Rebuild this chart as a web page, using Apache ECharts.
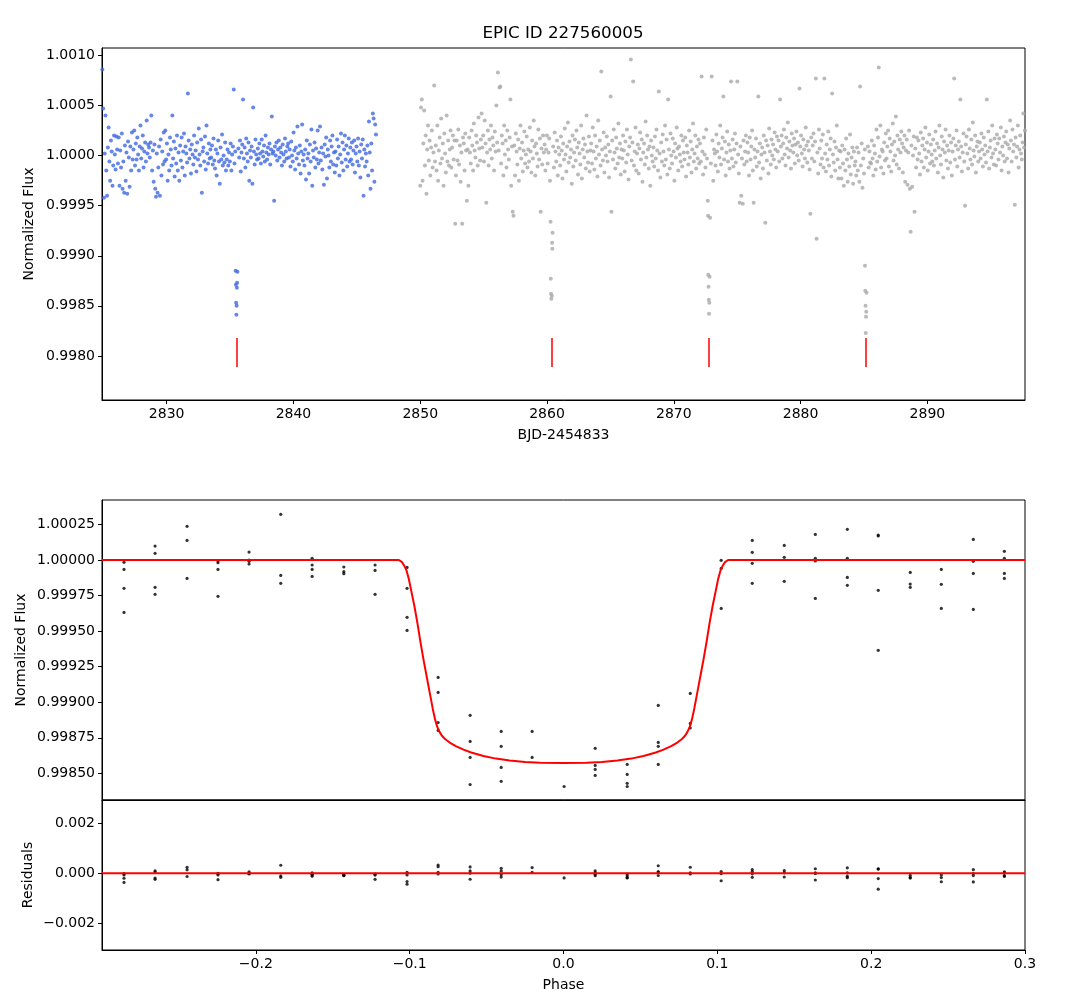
<!DOCTYPE html>
<html>
<head>
<meta charset="utf-8">
<title>EPIC ID 227560005</title>
<script src="https://cdn.jsdelivr.net/npm/echarts@6.0.0/dist/echarts.min.js"></script>
<style>
  html, body { margin: 0; padding: 0; background: #fff; }
  #chart { width: 1074px; height: 1000px; }
</style>
</head>
<body>
<div id="chart"></div>
<script>
// light curve, flux offsets in ppm, one value every 3 long cadences
const cadence = 0.0613
const blueStart = 2824.93
const blueFlux = [
  860, 470, -420, 20, 400, -150, -400, 80, 280, -60, -250, 150, 40, -300, -100, 200, 10, -140, 190, 60,
  -80, 180, -300, 50, -120, 220, -330, -60, -370, 100, -250, 30, -380, 140, -20, -310, 90, -150, 230, -40,
  60, 250, -100, 120, -40, 180, 10, -150, 90, 300, -30, 70, 200, -120, 40, 130, -60, 350, 20, 110,
  80, -20, 130, 400, -150, 50, -260, 110, -330, -410, 20, -370, -120, 90, -400, 160, -200, 40, -90, 230,
  -60, 250, -40, 120, -250, 10, -150, 180, 60, -100, 400, -30, 140, -210, 70, -80, 200, -150, 30, -250,
  100, -50, 180, -120, 40, 220, -200, 90, 20, -70, 620, 150, -30, 60, -180, 110, 10, -90, 200, -20,
  50, -160, 130, -40, 270, 10, -100, 160, -370, 40, 80, -60, 190, -140, 300, 20, -80, 120, -30, 60,
  -20, 100, -90, 170, -50, -130, 60, -200, 20, 150, -60, -280, 80, -40, 210, -100, 0, -70, 130, -150,
  -40, 60, -100, 30, -60, 120, -150, 10, 90, 660, -80, 40, 0, 0, -90, 70, -20, 150, -160, 30,
  110, 560, -30, 80, -120, 170, 20, -60, 130, -250, 50, -20, 90, -280, 480, 40, -90, 160, 10, -40,
  70, -30, 120, 20, -80, 160, 40, -10, 100, -60, 200, 30, -40, 80, 10, 120, -90, 60, 390, 20,
  40, -450, 90, 0, 130, -50, 60, 150, -20, 80, 30, -100, 110, 10, -60, 170, 40, -30, 90, 120,
  -20, 60, -110, 140, 0, -60, 230, 50, -140, 80, -30, 290, 20, -90, 100, -180, 40, 310, -50, 10,
  -100, 60, -240, 150, -30, 20, -180, 110, -60, 260, -300, 50, -20, 130, -120, 70, -40, 250, -80, 30,
  290, -50, 80, -140, 20, -290, 110, -10, 180, -230, 60, 0, -120, 150, -60, 90, 200, -90, 30, -170,
  40, -100, 160, -30, 90, -200, 10, 220, -70, 130, -150, 60, 200, -40, 100, -110, 20, 170, -60, 80,
  -40, 130, -90, 50, 150, -170, 20, 90, -60, 170, -100, 40, -220, 110, -30, 160, -400, 60, -110, 20,
  -60, 100, -200, 340, 30, -330, 120, -150, 420, 370, -260, 310, 210
]
const greyStart = 2850.0
const greyFlux = [
  -300, 480, 560, -250, 120, 450, -100, 200, -380, 60, 300, -50, 150, -200, 80, 250, -120, 30, 700, -60,
  100, -150, 300, -250, 50, 180, -80, 370, -30, 120, -300, 220, 20, -170, 400, -60, 150, -100, 60, 250,
  -120, 80, 200, -40, 150, -680, -200, 150, -50, 260, -90, 100, -260, 30, -680, 180, 120, -150, 220, 50,
  -450, 60, -300, 180, 30, -80, 250, 100, -150, 320, 50, -20, 200, 130, -100, 380, 70, -50, 160, 420,
  80, 200, -60, 350, 120, -470, 30, 250, -100, 160, 60, 300, -30, 180, 100, -150, 240, 40, 500, 130,
  830, 50, 680, 690, -80, 200, 120, -200, 300, 10, 150, -120, 250, 60, -40, 180, 560, -300, 90, -560,
  -600, 100, -200, 220, 40, -90, 160, -250, 70, 300, -30, 130, -160, 50, 240, -80, 10, 190, -120, 60,
  -60, 280, 40, -170, 150, -30, 350, 90, -200, 120, 20, -110, 260, -40, 170, -560, 70, -90, 200, 30,
  110, -150, 60, 200, -80, 30, 170, -250, 0, 0, 0, 90, -120, 230, 40, -60, 150, -200, 80, 10,
  -100, 190, 50, -230, 120, -40, 270, 10, -160, 90, 330, -70, 140, -20, 60, -280, 200, -110, 30, 160,
  -50, 250, 80, -190, 130, 20, -90, 300, -230, 60, 170, -20, 110, -130, 400, 40, -70, 190, -160, 50,
  120, -80, 280, 40, -140, 200, -30, 90, -210, 350, 10, 150, -100, 840, 60, -50, 230, -170, 80, 0,
  190, -60, 110, -220, 40, 590, -560, 150, -40, 260, 30, -130, 180, 70, -80, 320, -20, 120, -190, 60,
  -30, 200, 50, -160, 140, -70, 260, 10, -240, 90, 180, 960, -50, 130, 740, -100, 40, 280, -150, 20,
  110, -180, 70, 230, -40, 160, -260, 30, 120, -90, 340, -20, 200, 60, -130, 90, -300, 150, 0, -60,
  80, -110, 190, -30, 260, 50, -150, 640, 20, -220, 130, -60, 210, 40, -100, 300, -40, 160, -190, 560,
  60, -130, 220, 0, -80, 170, 40, -250, 120, -20, 280, 70, -150, 90, 10, -60, 200, -110, 150, 30,
  -40, 180, -210, 100, 30, -90, 250, -20, 140, -170, 60, 320, -60, 20, 200, -130, 90, -30, 160, -80,
  120, -60, 790, 40, -190, 180, 10, -120, 260, -30, -450, 0, 0, 90, -80, 790, 150, -250, 60, 20,
  -100, 210, 40, -160, 120, -20, 300, -90, 70, 180, 590, -40, 140, -200, 30, 240, -60, 110, -130, 50,
  740, -30, 160, -110, 60, 220, -70, 120, 740, 10, -180, -470, 90, -400, -30, -480, 150, -90, 40, 200,
  -60, 130, 30, -200, 180, -40, 90, 250, -150, -470, 60, -20, 170, -110, 40, 590, -70, 120, -230, 10,
  80, -130, 200, 30, -670, 150, -50, 100, -180, 270, 40, -90, 160, 0, 110, -40, 230, 60, -120, 190,
  40, 150, -60, 560, 90, 200, -30, 120, 260, 10, -100, 180, 70, 330, -20, 140, 50, -130, 220, 100,
  30, 170, -80, 110, 240, 0, 130, -50, 670, 90, 200, 20, -110, 160, 60, -30, 280, 100, -70, 140,
  50, -140, -580, 180, -30, 100, 220, -60, 140, 770, -830, 30, -180, 260, 70, -90, 150, -30, 210, -120,
  770, 20, -160, 110, -40, 240, -100, 60, 170, -210, 620, 10, -70, 140, -150, 80, 300, -40, -230, 50,
  -120, 40, -230, 100, -80, -300, 60, -150, 170, -40, -260, 20, -110, 210, -190, -20, 80, -280, 40, -100,
  -60, -200, 80, -150, 30, -260, 690, -100, 120, -320, -30, -180, 60, 0, 0, -230, 90, -120, 40, -70,
  -80, 150, -30, -200, 100, 20, -140, 260, -60, 180, 880, -10, 300, -120, 60, 40, -180, 130, -50, 220,
  -30, 90, 250, -110, 170, 40, -160, 110, 320, -50, 140, 0, 390, -90, 200, 60, -130, 160, 30, 240,
  120, -170, 80, 200, -260, 50, 160, -290, 30, 250, -330, -760, 100, -310, 0, 190, -560, 70, -120, 180,
  -40, 150, 20, -190, 230, -60, 100, 170, -120, 60, 280, -20, 130, -150, 40, 210, -80, 110, 10, -60,
  160, -100, 50, 240, -30, 120, -170, 80, 300, 0, -90, 190, 60, -220, 140, 30, 260, -50, 100, -130,
  50, 200, -70, 130, -200, 40, 170, 770, -40, 100, 250, -110, 60, 140, -20, 560, 90, -160, 30, 220,
  -60, -500, 110, 190, 20, -130, 260, 70, -40, 160, -90, 330, 50, -10, 200, -170, 90, 140, -60, 40,
  130, -30, 220, 60, -110, 180, 10, 100, -70, 560, 40, 240, -130, 80, 150, -20, 300, 20, -90, 170,
  60, -100, 210, 120, -40, 170, 30, 280, -150, 90, 0, 190, -60, 130, 240, -30, 110, -170, 70, 350,
  150, -60, 260, 40, 110, -490, 180, -20, 90, 300, -120, 60, 200, 20, -40, 130, 420, 80, 250, -30
]

// transits
const transitTimes = [2835.52, 2860.36, 2872.78, 2885.16]
const markHigh = 0.99818
const markLow = 0.99789
const dipBlueTimes = [2835.44, 2835.46, 2835.48, 2835.50, 2835.52, 2835.54, 2835.56, 2835.58]
const dipBlueFlux = [0.99885, 0.99871, 0.99853, 0.99841, 0.99850, 0.99868, 0.99873, 0.99884]
const dipGreyTimes = [
  2860.28, 2860.30, 2860.32, 2860.34, 2860.38, 2860.40, 2860.42, 2860.44,
  2872.70, 2872.72, 2872.74, 2872.76, 2872.78, 2872.80, 2872.82, 2872.86,
  2885.08, 2885.10, 2885.12, 2885.14, 2885.16, 2885.18, 2885.20
]
const dipGreyFlux = [
  0.99934, 0.99877, 0.99862, 0.99857, 0.99860, 0.99913, 0.99907, 0.99923,
  0.99940, 0.99881, 0.99869, 0.99856, 0.99842, 0.99853, 0.99879, 0.99938,
  0.99890, 0.99865, 0.99850, 0.99823, 0.99839, 0.99844, 0.99863
]

// phase folded points (ppm), one list per phase bin
const foldPhase = [-0.2857, -0.2655, -0.2447, -0.2246, -0.2044, -0.1838, -0.1634, -0.1428, -0.1225, -0.1017,
  -0.0815, -0.0607, -0.0405, -0.0204, 0.0004, 0.0206, 0.0414, 0.0616, 0.0824, 0.1025,
  0.1227, 0.1435, 0.1637, 0.1845, 0.2046, 0.2254, 0.2456, 0.2664, 0.2866]
const foldFlux = [
  [-16, -66, -199, -368], [98, 47, -192, -241], [237, 138, -129], [-7, -19, -66, -255], [56, 0, -9, -28],
  [321, -108, -164], [12, -35, -66, -115], [-49, -82, -96], [-35, -73, -241], [-52, -199, -403, -495],
  [-825, -931, -1142, -1198], [-1092, -1275, -1388, -1578], [-1205, -1310, -1458, -1556], [-1205, -1388], [-1592],
  [-1324, -1444, -1472, -1514], [-1437, -1507, -1570, -1592], [-1022, -1282, -1310, -1437], [-938, -1149, -1181], [-2, -59, -340],
  [138, 54, -23, -164], [103, 19, -150], [180, 12, -7, -270], [216, 12, -122, -178], [176, 169, -213, -635],
  [-87, -169, -192], [-66, -171, -340], [145, -9, -94, -347], [61, 12, -94, -129]
]
const residuals = [
  [-16, -66, -199, -368], [98, 47, -192, -241], [237, 138, -129], [-7, -19, -66, -255], [56, 0, -9, -28],
  [321, -108, -164], [12, -35, -66, -115], [-49, -82, -96], [-35, -73, -241], [40, -67, -333, -440],
  [330, 260, 40, -30], [253, 93, 0, -240], [200, 95, -53, -151], [227, 40], [-187],
  [93, 20, -40, -100], [-30, -100, -170, -190], [300, 70, 40, -90], [240, 13, -30], [67, -20, -300],
  [147, 67, -23, -164], [103, 19, -150], [180, 12, -7, -270], [216, 12, -122, -178], [176, 169, -213, -635],
  [-87, -169, -192], [-66, -171, -340], [145, -9, -94, -347], [61, 12, -94, -129]
]

// transit model (ppm)
const modelPhase = [-0.3, -0.107, -0.105, -0.1035, -0.102, -0.1005, -0.099, -0.097, -0.095, -0.093,
  -0.091, -0.089, -0.087, -0.085, -0.0835, -0.082, -0.0805, -0.079, -0.077, -0.074,
  -0.07, -0.065, -0.06, -0.052, -0.044, -0.035, -0.025, -0.015, 0,
  0.015, 0.025, 0.035, 0.044, 0.052, 0.06, 0.065, 0.07, 0.074, 0.077,
  0.079, 0.0805, 0.082, 0.0835, 0.085, 0.087, 0.089, 0.091, 0.093, 0.095,
  0.097, 0.099, 0.1005, 0.102, 0.1035, 0.105, 0.107, 0.3]
const modelFlux = [0, 0, -15, -40, -75, -135, -215, -320, -440, -575,
  -700, -815, -930, -1045, -1120, -1175, -1210, -1235, -1258, -1283,
  -1308, -1333, -1353, -1378, -1396, -1410, -1420, -1425, -1427,
  -1425, -1420, -1410, -1396, -1378, -1353, -1333, -1308, -1283, -1258,
  -1235, -1210, -1175, -1120, -1045, -930, -815, -700, -575, -440,
  -320, -215, -135, -75, -40, -15, 0, 0]
const zeroPhase = [-0.3, 0.3]
const zeroResid = [0, 0]

// tick labels
const timeTicks = [2830, 2840, 2850, 2860, 2870, 2880, 2890]
const fluxTicks = [0.998, 0.9985, 0.999, 0.9995, 1.0, 1.0005, 1.001]
const foldTicks = [0.9985, 0.99875, 0.999, 0.99925, 0.9995, 0.99975, 1.0, 1.00025]
const residTicks = [-0.002, 0, 0.002]
const phaseTicks = [-0.2, -0.1, 0, 0.1, 0.2, 0.3]

const toFlux = ppm => 1 + ppm * 1e-6
const nearTransit = t => transitTimes.some(T => Math.abs(t - T) < 0.09)
function cloud(start, values) {
  const out = []
  values.forEach((v, i) => {
    const t = start + i * cadence
    if (!nearTransit(t)) out.push([t, toFlux(v)])
  })
  return out
}
function binned(lists, scale) {
  const out = []
  lists.forEach((list, i) => list.forEach(v => out.push([foldPhase[i], scale(v)])))
  return out
}
const minus = s => s.replace('-', '\u2212')

const font = 'DejaVu Sans'
const txt = { color: '#000', fontFamily: font, fontSize: 14 }
const black = { color: '#000', width: 1 }

function xAxis(grid, min, max, ticks, fmt, name, showLabels) {
  return {
    type: 'value', gridIndex: grid, min: min, max: max,
    name: name, nameLocation: 'middle', nameGap: 28, nameTextStyle: txt, nameMoveOverlap: false,
    axisLine: { show: true, onZero: false, lineStyle: black },
    axisTick: { show: showLabels, length: 4, lineStyle: black, customValues: ticks },
    axisLabel: { show: showLabels, margin: 7, ...txt, customValues: ticks, formatter: fmt },
    splitLine: { show: false }
  }
}
function yAxis(grid, min, max, ticks, fmt, name, gap) {
  return {
    type: 'value', gridIndex: grid, min: min, max: max,
    name: name, nameLocation: 'middle', nameGap: gap, nameTextStyle: txt, nameMoveOverlap: false,
    axisLine: { show: true, onZero: false, lineStyle: black },
    axisTick: { show: true, length: 4, lineStyle: black, customValues: ticks },
    axisLabel: { margin: 7, ...txt, customValues: ticks, formatter: fmt },
    splitLine: { show: false }
  }
}
const box = { show: true, borderColor: '#000', borderWidth: 1, left: 102, right: 49 }

const chart = echarts.init(document.getElementById('chart'), null, { renderer: 'canvas' })
chart.setOption({
  animation: false,
  backgroundColor: '#fff',
  graphic: [{
    type: 'text', x: 563, y: 34,
    style: { text: 'EPIC ID 227560005', fill: '#000', font: '16.7px "DejaVu Sans"', align: 'center', verticalAlign: 'middle' }
  }],
  grid: [
    { ...box, top: 48, height: 352 },
    { ...box, top: 500, height: 300 },
    { ...box, top: 800, height: 150 }
  ],
  xAxis: [
    xAxis(0, 2824.9, 2897.7, timeTicks, v => String(v), 'BJD-2454833', true),
    xAxis(1, -0.3, 0.3, phaseTicks, v => minus(v.toFixed(1)), '', false),
    xAxis(2, -0.3, 0.3, phaseTicks, v => minus(v.toFixed(1)), 'Phase', true)
  ],
  yAxis: [
    yAxis(0, 0.99756, 1.001074, fluxTicks, v => v.toFixed(4), 'Normalized Flux', 66),
    yAxis(1, 0.998313, 1.000422, foldTicks, v => v.toFixed(5), 'Normalized Flux', 74),
    yAxis(2, -0.00307, 0.00293, residTicks, v => minus(v.toFixed(3)), 'Residuals', 67)
  ],
  series: [
    {
      type: 'scatter', xAxisIndex: 0, yAxisIndex: 0, symbolSize: 4,
      itemStyle: { color: '#4169e1' }, data: cloud(blueStart, blueFlux)
    },
    {
      type: 'scatter', xAxisIndex: 0, yAxisIndex: 0, symbolSize: 4,
      itemStyle: { color: '#4169e1' }, data: dipBlueTimes.map((t, i) => [t, dipBlueFlux[i]])
    },
    {
      type: 'scatter', xAxisIndex: 0, yAxisIndex: 0, symbolSize: 4,
      itemStyle: { color: '#a9a9a9' }, data: cloud(greyStart, greyFlux)
    },
    {
      type: 'scatter', xAxisIndex: 0, yAxisIndex: 0, symbolSize: 4,
      itemStyle: { color: '#a9a9a9' }, data: dipGreyTimes.map((t, i) => [t, dipGreyFlux[i]])
    },
    {
      type: 'lines', coordinateSystem: 'cartesian2d', xAxisIndex: 0, yAxisIndex: 0,
      lineStyle: { color: '#ff0000', width: 1.5, opacity: 1 },
      data: transitTimes.map(t => ({ coords: [[t, markHigh], [t, markLow]] }))
    },
    {
      type: 'scatter', xAxisIndex: 1, yAxisIndex: 1, symbolSize: 3.2,
      itemStyle: { color: '#000' }, data: binned(foldFlux, toFlux)
    },
    {
      type: 'line', xAxisIndex: 1, yAxisIndex: 1, showSymbol: false, symbol: 'none',
      lineStyle: { color: '#ff0000', width: 2 },
      data: modelPhase.map((p, i) => [p, toFlux(modelFlux[i])])
    },
    {
      type: 'scatter', xAxisIndex: 2, yAxisIndex: 2, symbolSize: 3.2,
      itemStyle: { color: '#000' }, data: binned(residuals, v => v * 1e-6)
    },
    {
      type: 'line', xAxisIndex: 2, yAxisIndex: 2, showSymbol: false, symbol: 'none',
      lineStyle: { color: '#ff0000', width: 2 },
      data: zeroPhase.map((p, i) => [p, zeroResid[i]])
    }
  ]
})
</script>
</body>
</html>
